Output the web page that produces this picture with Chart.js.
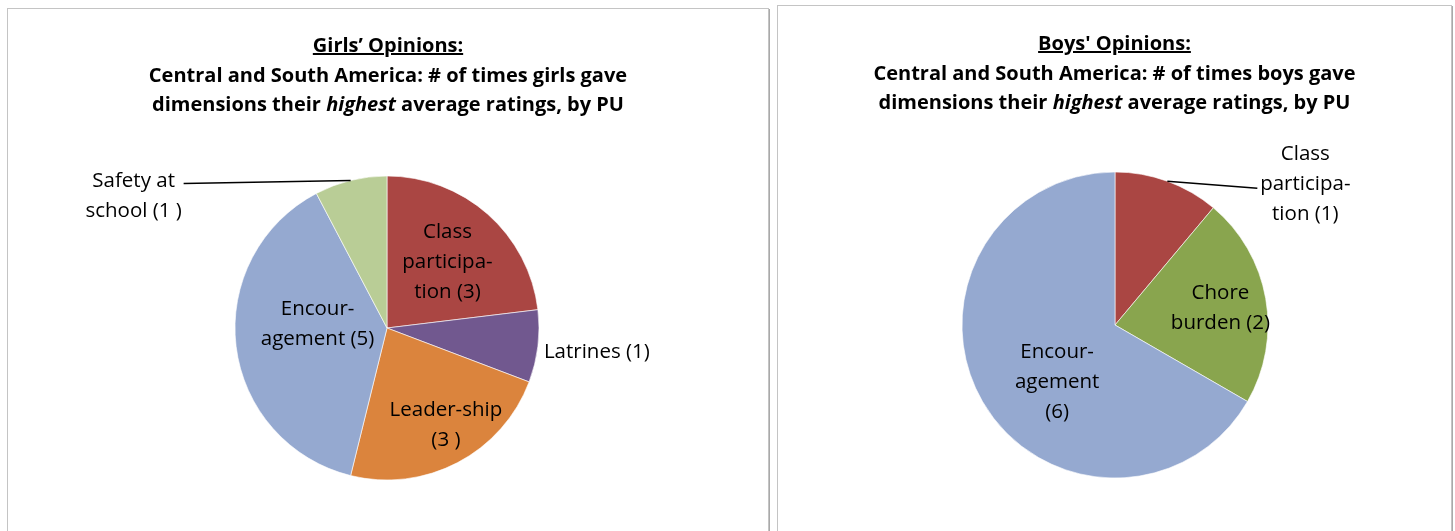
<!DOCTYPE html>
<html>
<head>
<meta charset="utf-8">
<script src="https://cdn.jsdelivr.net/npm/chart.js@4/dist/chart.umd.min.js"></script>
<style>
  body { margin: 0; background: #fff; width: 1455px; height: 531px; overflow: hidden; font-family: "Open Sans", "Liberation Sans", sans-serif; }
  .panel { position: absolute; border: 1px solid #c4c4c4; box-shadow: 1px 1px 0 #a9a9a9; background: #fff; }
  #p1 { left: 7px; top: 8px; width: 760px; height: 560px; }
  #p2 { left: 777px; top: 5px; width: 673px; height: 560px; }
  .title { position: absolute; left: 0; right: 0; text-align: center; font-weight: bold; font-size: 20px; line-height: 29.5px; color: #000; }
  canvas { position: absolute; left: 0; top: 0; }
</style>
</head>
<body>
<div class="panel" id="p1">
  <canvas id="girls" width="760" height="540"></canvas>
  <div class="title" style="top:21px"><u>Girls’ Opinions:</u><br>Central and South America: # of times girls gave<br>dimensions their <i>highest</i> average ratings, by PU</div>
</div>
<div class="panel" id="p2">
  <canvas id="boys" width="673" height="540"></canvas>
  <div class="title" style="top:22px"><u>Boys' Opinions:</u><br>Central and South America: # of times boys gave<br>dimensions their <i>highest</i> average ratings, by PU</div>
</div>
<script>
// girls: # of PUs where each dimension got the highest average rating
const girlsCategories = ["Class participation", "Latrines", "Leadership", "Encouragement", "Safety at school"];
const girlsValues = [3, 1, 3, 5, 1];
const girlsLabelLines = [["Class", "participa-", "tion (3)"], ["Latrines (1)"], ["Leader-ship", "(3 )"], ["Encour-", "agement (5)"], ["Safety at", "school (1 )"]];
const girlsColors = ["#aa4643", "#71588f", "#db843d", "#95a9d0", "#b9cd96"];

// boys
const boysCategories = ["Class participation", "Chore burden", "Encouragement"];
const boysValues = [1, 2, 6];
const boysLabelLines = [["Class", "participa-", "tion (1)"], ["Chore", "burden (2)"], ["Encour-", "agement", "(6)"]];
const boysColors = ["#aa4643", "#89a54e", "#95a9d0"];

const labelFont = '20.5px "Open Sans", "Liberation Sans", sans-serif';

// draws the slice labels (and leader lines for the outside ones)
const sliceLabels = {
  id: 'sliceLabels',
  afterDatasetsDraw(chart, args, opts) {
    const ctx = chart.ctx;
    const arcs = chart.getDatasetMeta(0).data;
    ctx.save();
    ctx.font = labelFont;
    ctx.fillStyle = '#000';
    ctx.textBaseline = 'middle';
    arcs.forEach((arc, i) => {
      const p = opts.place[i];
      const lines = opts.lines[i];
      const mid = (arc.startAngle + arc.endAngle) / 2;
      const cx = Math.cos(mid), cy = Math.sin(mid);
      let x = arc.x + cx * arc.outerRadius * p.k + (p.dx || 0);
      let y = arc.y + cy * arc.outerRadius * p.k + (p.dy || 0);
      if (p.leader) {
        const ex = arc.x + cx * arc.outerRadius, ey = arc.y + cy * arc.outerRadius;
        const lx = ex + p.leader[0], ly = ey + p.leader[1];
        ctx.beginPath();
        ctx.moveTo(ex, ey);
        ctx.lineTo(lx, ly);
        ctx.strokeStyle = '#000';
        ctx.lineWidth = 1.5;
        ctx.stroke();
        x = lx + p.dx;
        y = ly + p.dy;
      }
      y += 2;
      ctx.textAlign = p.align || 'center';
      lines.forEach((t, j) => ctx.fillText(t, x, y + (j - (lines.length - 1) / 2) * 30));
    });
    ctx.restore();
  }
};

function makePie(id, labels, values, colors, lines, place, radius, padding) {
  return new Chart(document.getElementById(id), {
    type: 'pie',
    data: {
      labels: labels,
      datasets: [{
        data: values,
        backgroundColor: colors,
        borderColor: 'rgba(255,255,255,0.6)',
        borderWidth: 1
      }]
    },
    options: {
      responsive: false,
      animation: false,
      radius: radius,
      layout: { padding: padding },
      plugins: {
        legend: { display: false },
        tooltip: { enabled: false },
        sliceLabels: { lines: lines, place: place }
      }
    },
    plugins: [sliceLabels]
  });
}

makePie('girls', girlsCategories, girlsValues, girlsColors, girlsLabelLines, [
  { k: 0.6 },
  { k: 1, dx: 6, dy: 4, align: 'left' },
  { k: 0.735, dx: 7, dy: -4 },
  { k: 0.46, dy: -14 },
  { k: 1, leader: [-167, 3], dx: -50, dy: 11 }
], 152, { left: 227, top: 167, right: 229, bottom: 69 });

makePie('boys', boysCategories, boysValues, boysColors, boysLabelLines, [
  { k: 1, leader: [90, 7], dx: 48, dy: -6 },
  { k: 0.7 },
  { k: 0.52, dx: 11, dy: 15 }
], 153, { left: 184, top: 166, right: 183, bottom: 68 });
</script>
</body>
</html>
